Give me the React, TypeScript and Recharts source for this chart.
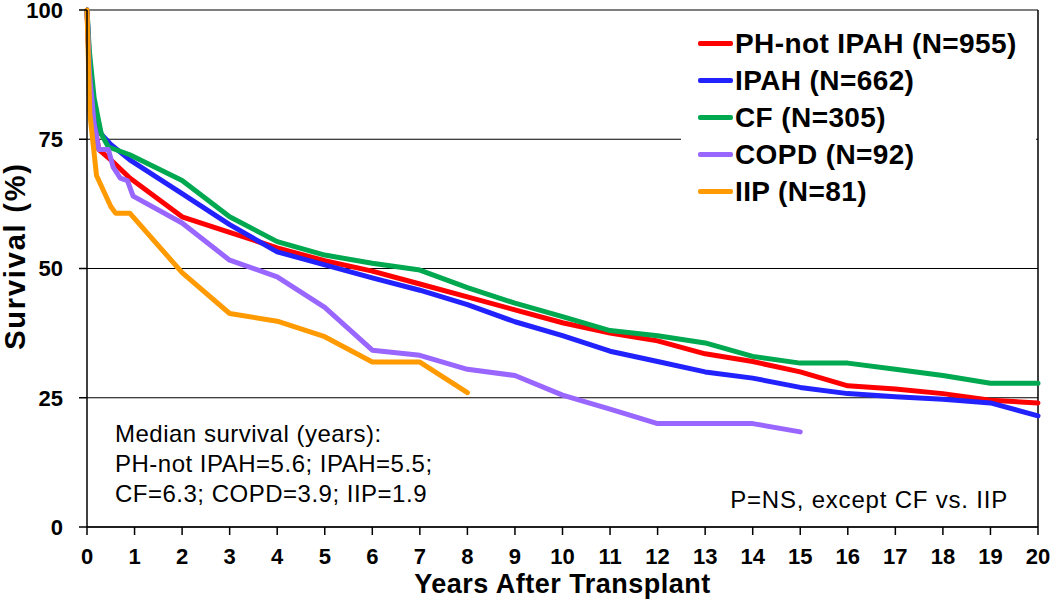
import React from 'react';
import { LineChart, Line, XAxis, YAxis, CartesianGrid, ReferenceLine, Label, Customized } from 'recharts';

const phYears = [0, 0.05, 0.15, 0.25, 0.5, 0.9, 2, 3, 4, 5, 6, 7, 8, 9, 10, 11, 12, 13, 14, 15, 16, 17, 18, 19, 20];
const phSurvival = [100, 88, 78, 73, 71, 67.5, 60, 57, 54, 51.5, 49.5, 47, 44.5, 42, 39.5, 37.5, 36, 33.5, 32, 30, 27.3, 26.7, 25.8, 24.5, 24];

const ipahYears = [0, 0.05, 0.15, 0.3, 0.5, 0.9, 2, 3, 4, 5, 6, 7, 8, 9, 10, 11, 12, 13, 14, 15, 16, 17, 18, 19, 20];
const ipahSurvival = [100, 90, 81, 76, 74, 71, 64.5, 58.5, 53.2, 50.7, 48.2, 45.8, 43, 39.7, 37, 34, 32, 30, 28.8, 27, 25.8, 25.2, 24.7, 24, 21.5];

const cfYears = [0, 0.05, 0.15, 0.3, 0.45, 0.9, 2, 3, 4, 5, 6, 7, 8, 9, 10, 11, 12, 13, 14, 15, 16, 17, 18, 19, 20];
const cfSurvival = [100, 92, 83, 76, 73.5, 72, 67, 60, 55.2, 52.6, 51, 49.7, 46.3, 43.3, 40.7, 38, 37, 35.6, 33, 31.7, 31.7, 30.5, 29.3, 27.8, 27.8];

const copdYears = [0, 0.05, 0.15, 0.25, 0.45, 0.55, 0.7, 0.85, 0.97, 2, 3, 4, 5, 6, 7, 8, 9, 10, 11, 12, 13, 14, 15];
const copdSurvival = [100, 88, 78, 73, 73, 69.6, 67.5, 67, 64, 58.8, 51.6, 48.4, 42.5, 34.2, 33.2, 30.5, 29.3, 25.5, 22.8, 20, 20, 20, 18.4];

const iipYears = [0, 0.06, 0.2, 0.35, 0.5, 0.6, 0.9, 2, 3, 4, 5, 6, 7, 8];
const iipSurvival = [100, 80, 68, 65, 62, 60.7, 60.7, 49.2, 41.3, 39.8, 36.8, 31.9, 31.9, 26];

const seriesNames = ['PH-not IPAH (N=955)', 'IPAH (N=662)', 'CF (N=305)', 'COPD (N=92)', 'IIP (N=81)'];
const seriesColors = ['#FF0000', '#2222FF', '#00A850', '#9966FF', '#FF9A00'];
const seriesYears = [phYears, ipahYears, cfYears, copdYears, iipYears];
const seriesValues = [phSurvival, ipahSurvival, cfSurvival, copdSurvival, iipSurvival];

const xTicks = Array.from({ length: 21 }, (_, i) => i);
const yTicks = [0, 25, 50, 75, 100];

const medianLines = [
  'Median survival (years):',
  'PH-not IPAH=5.6; IPAH=5.5;',
  'CF=6.3; COPD=3.9; IIP=1.9',
];
const pNote = 'P=NS, except CF vs. IIP';

const FONT = '"Liberation Sans", Arial, Helvetica, sans-serif';

const seriesData = seriesYears.map((ys, i) => ys.map((x, j) => ({ x, y: seriesValues[i][j] })));

const Annotations = () => (
  <g fontFamily={FONT} fill="#000">
    {medianLines.map((t, i) => (
      <text key={i} x={115} y={442 + i * 30} fontSize={24} letterSpacing={0.5}>
        {t}
      </text>
    ))}
    <text x={1008} y={508} fontSize={24} textAnchor="end" letterSpacing={0.8}>
      {pNote}
    </text>
  </g>
);

const YLabel = () => (
  <text
    x={25}
    y={256}
    transform="rotate(-90 25 256)"
    textAnchor="middle"
    fontFamily={FONT}
    fontWeight="bold"
    fontSize={29}
    letterSpacing={1.8}
    fill="#000"
  >
    Survival (%)
  </text>
);

const LegendBox = () => (
  <div
    style={{
      position: 'absolute',
      left: 681,
      top: 12,
      width: 355,
      height: 203,
      background: '#fff',
      paddingTop: 13,
      boxSizing: 'border-box',
    }}
  >
    {seriesNames.map((n, i) => (
      <div key={n} style={{ height: 37, display: 'flex', alignItems: 'center' }}>
        <span style={{ display: 'inline-block', width: 35, height: 5, marginLeft: 17, background: seriesColors[i], borderRadius: 2 }} />
        <span style={{ marginLeft: 2, fontFamily: FONT, fontWeight: 'bold', fontSize: 28, color: '#000', letterSpacing: 0.4, whiteSpace: 'nowrap' }}>{n}</span>
      </div>
    ))}
  </div>
);

export default function App() {
  return (
    <div style={{ position: 'absolute', left: 0, top: 0, width: 1050, height: 601, background: '#fff' }}>
      <LineChart width={1050} height={601} margin={{ top: 10, right: 12, bottom: 0, left: 0 }}>
        <CartesianGrid vertical={false} stroke="#000" strokeWidth={1.2} strokeOpacity={1} />
        <XAxis
          type="number"
          dataKey="x"
          domain={[0, 20]}
          ticks={xTicks}
          interval={0}
          height={74}
          tickSize={8}
          tickMargin={13}
          stroke="#000"
          axisLine={{ stroke: '#000', strokeWidth: 1.5 }}
          tickLine={{ stroke: '#000', strokeWidth: 1.5 }}
          tick={{ fill: '#000', fontSize: 22, fontWeight: 'bold', fontFamily: FONT }}
          allowDuplicatedCategory={false}
        >
          <Label
            value="Years After Transplant"
            position="insideBottom"
            offset={8}
            style={{ fill: '#000', fontSize: 27, fontWeight: 'bold', fontFamily: FONT, letterSpacing: 0.5 }}
          />
        </XAxis>
        <YAxis
          type="number"
          domain={[0, 100]}
          ticks={yTicks}
          interval={0}
          width={87}
          tickSize={8}
          tickMargin={16}
          axisLine={{ stroke: '#000', strokeWidth: 1.5 }}
          tickLine={{ stroke: '#000', strokeWidth: 1.5 }}
          tick={{ fill: '#000', fontSize: 22, fontWeight: 'bold', fontFamily: FONT }}
        >
          <Label content={<YLabel />} />
        </YAxis>
        <ReferenceLine x={20} stroke="#000" strokeWidth={1.5} ifOverflow="visible" />
        {seriesData.map((d, i) => (
          <Line
            key={seriesNames[i]}
            data={d}
            dataKey="y"
            name={seriesNames[i]}
            type="linear"
            stroke={seriesColors[i]}
            strokeWidth={5}
            strokeLinejoin="round"
            strokeLinecap="round"
            dot={false}
            activeDot={false}
            isAnimationActive={false}
          />
        ))}
        <Customized component={<Annotations />} />
      </LineChart>
      <LegendBox />
    </div>
  );
}
